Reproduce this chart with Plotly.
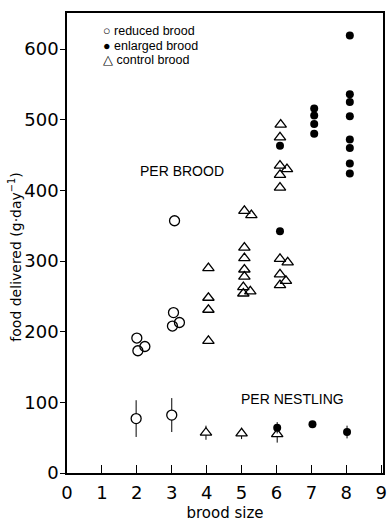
import plotly.graph_objects as go

# Food delivered per brood, by treatment (brood size, g/day)
reduced_x = [2.0, 2.03, 2.23, 3.05, 3.02, 3.22, 3.08]
reduced_y = [191, 173, 179, 227, 208, 213, 357]

control_x = [4.05, 4.05, 4.05, 4.05,
             5.08, 5.28, 5.08, 5.08, 5.08, 5.08, 5.05, 5.25, 5.05,
             6.12, 6.1, 6.1, 6.3, 6.1, 6.1, 6.1, 6.32, 6.1, 6.27, 6.1]
control_y = [290, 248, 231, 187,
             371, 365, 319, 304, 288, 278, 263, 257, 254,
             493, 475, 435, 430, 422, 404, 303, 298, 281, 272, 266]

enlarged_x = [6.1, 6.1, 7.08, 7.08, 7.08, 7.08,
              8.1, 8.1, 8.1, 8.1, 8.1, 8.1, 8.1, 8.1]
enlarged_y = [463, 342, 516, 506, 494, 480,
              619, 536, 525, 505, 472, 460, 438, 424]

# Food delivered per nestling: mean and spread
nest_red_x = [1.98, 3.0]
nest_red_y = [77, 82]
nest_red_e = [26, 24]

nest_ctl_x = [3.98, 5.0, 6.02]
nest_ctl_y = [57, 56, 55]
nest_ctl_e = [10, 8, 12]

nest_enl_x = [6.02, 7.03, 8.02]
nest_enl_y = [64, 69, 58]
nest_enl_e = [8, 3, 9]

x_ticks = list(range(0, 10))
y_ticks = [0, 100, 200, 300, 400, 500, 600]

legend_names = ["reduced brood", "enlarged brood", "control brood"]
legend_glyphs = ["○", "●", "△"]
legend_rows_y = [626, 605, 584]

open_circle = dict(symbol="circle-open", size=10, color="black", line=dict(width=1.3))
white_circle = dict(symbol="circle", size=10, color="white", line=dict(color="black", width=1.3))
dot = dict(symbol="circle", size=8, color="black")
open_tri = dict(symbol="triangle-up-open", size=10, color="black", line=dict(width=1.3))
white_tri = dict(symbol="triangle-up", size=10, color="white", line=dict(color="black", width=1.3))

def err(e):
    return dict(type="data", array=e, visible=True, color="black", thickness=1, width=0)

fig = go.Figure()
fig.add_trace(go.Scatter(x=control_x, y=control_y, mode="markers", marker=open_tri))
fig.add_trace(go.Scatter(x=reduced_x, y=reduced_y, mode="markers", marker=open_circle))
fig.add_trace(go.Scatter(x=enlarged_x, y=enlarged_y, mode="markers", marker=dot))

fig.add_trace(go.Scatter(x=nest_red_x, y=nest_red_y, error_y=err(nest_red_e),
                         mode="markers", marker=white_circle))
fig.add_trace(go.Scatter(x=nest_ctl_x, y=nest_ctl_y, error_y=err(nest_ctl_e),
                         mode="markers", marker=white_tri))
fig.add_trace(go.Scatter(x=nest_enl_x, y=nest_enl_y, error_y=err(nest_enl_e),
                         mode="markers", marker=dot))

label_font = dict(family="Liberation Sans", size=14, color="black")
legend_font = dict(family="Liberation Sans", size=12.5, color="black")

fig.add_annotation(x=3.3, y=428, text="PER BROOD", showarrow=False, font=label_font)
fig.add_annotation(x=6.47, y=105, text="PER NESTLING", showarrow=False, font=label_font)

for glyph, name, yy in zip(legend_glyphs, legend_names, legend_rows_y):
    fig.add_annotation(x=0.98, y=yy, xanchor="left", text=glyph + " " + name,
                       showarrow=False, font=legend_font)

# vertical axis title, placed by hand so it sits a little low
fig.add_annotation(xref="paper", yref="paper", x=-0.165, y=0.47,
                   xanchor="center", yanchor="middle", textangle=-90,
                   text="food delivered (g·day<sup>−1</sup>)", showarrow=False,
                   font=dict(family="DejaVu Sans", size=14, color="black"))

fig.update_layout(
    width=392, height=524,
    margin=dict(l=67, r=5, t=13, b=42),
    paper_bgcolor="white", plot_bgcolor="white",
    showlegend=False,
    font=dict(family="DejaVu Sans", color="black"),
)
fig.update_xaxes(
    range=[0, 9.05], tickvals=x_ticks, ticktext=[str(t) for t in x_ticks],
    ticks="inside", ticklen=8, tickwidth=1.3, tickcolor="black",
    showline=True, linecolor="black", linewidth=1.5, mirror=True,
    showgrid=False, zeroline=False, ticklabelstandoff=3,
    tickfont=dict(family="DejaVu Sans", size=18),
    title=dict(text="brood size", font=dict(family="DejaVu Sans", size=15), standoff=5),
)
fig.update_yaxes(
    range=[0, 651], tickvals=y_ticks,
    ticks="outside", ticklen=5, tickwidth=1.3, tickcolor="black",
    showline=True, linecolor="black", linewidth=1.5, mirror=True,
    showgrid=False, zeroline=False, ticklabelstandoff=-2,
    tickfont=dict(family="DejaVu Sans", size=18),
)

fig.write_html("out.html")
